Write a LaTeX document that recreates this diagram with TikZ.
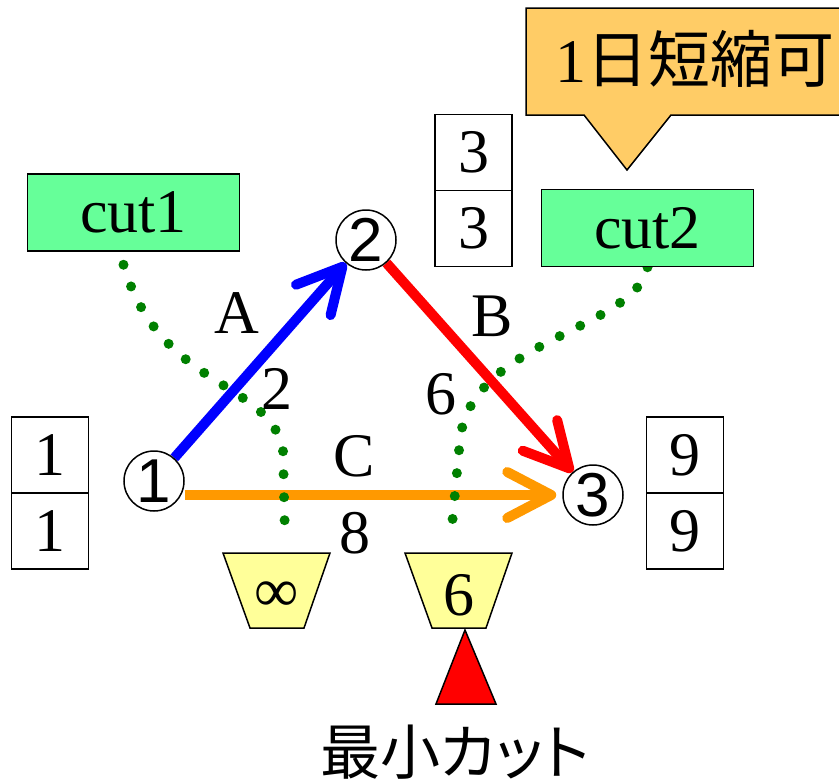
\documentclass[tikz,border=0pt]{standalone}
\usepackage{fontspec}
\setmainfont{Liberation Serif}
\newfontfamily\jpfont{Noto Sans CJK JP}
\newfontfamily\jppfont[RawFeature=+palt]{Noto Sans CJK JP}
\newfontfamily\circfont{Liberation Sans}
\usetikzlibrary{arrows.meta,positioning,backgrounds}
\newcommand\figfont{\fontsize{62}{66}\selectfont}
\definecolor{cutgreen}{RGB}{102,255,153}
\definecolor{bucketyellow}{RGB}{255,255,153}
\definecolor{calloutorange}{RGB}{255,204,102}
\definecolor{edgeorange}{RGB}{255,153,0}
\definecolor{dotgreen}{RGB}{0,128,0}
\tikzset{
valbox/.style={
		draw,
		line width=1.5pt,
		minimum width=77pt,
		minimum height=76pt,
		inner sep=0pt,
		outer sep=0pt,
		font=\figfont
	},
cutbox/.style={
		draw,
		fill=cutgreen,
		line width=1.5pt,
		minimum width=212pt,
		minimum height=77pt,
		font=\figfont
	},
numnode/.style={
		draw,
		circle,
		line width=1.5pt,
		minimum size=60pt,
		inner sep=0pt,
		font=\circfont\fontsize{62}{64}\selectfont
	},
bucket/.style={
		draw,
		fill=bucketyellow,
		line width=1.5pt
	},
flow/.style={
		line width=10pt,
		-{Straight Barb[length=44pt,width=46pt,round]}
	},
cutline/.style={
		dotgreen,
		line width=10pt,
		line cap=round,
		dash pattern=on 0pt off 23pt
	}
}
\begin{document}
\begin{tikzpicture}[x=1pt,y=-1pt]
			\useasboundingbox (0,0) rectangle (839,782);
			\clip (0,0) rectangle (839,782);
			% callout
			\draw[fill=calloutorange,line width=1.5pt] (526,8) -- (900,8) -- (900,115) -- (671,115) -- (627,170) -- (584,115) -- (526,115) -- cycle;
			\node[anchor=base west,inner sep=0pt,font=\figfont] (short) at (555,82) {1{\jpfont 日短縮可}};
			% nodes
			\node[numnode] (n1) at (154,481) {1};
			\node[numnode] (n2) at (366,240) {2};
			\node[numnode] (n3) at (593,495) {3};
			\node[valbox] (s1) at (50,455) {1};
			\node[valbox,below=0pt of s1] (t1) {1};
			\node[valbox] (s2) at (473.5,152.5) {3};
			\node[valbox,below=0pt of s2] (t2) {3};
			\node[valbox] (s3) at (685,455) {9};
			\node[valbox,below=0pt of s3] (t3) {9};
			\node[cutbox] (cut1) at (133.5,212.5) {cut1};
			\node[cutbox] (cut2) at (647.5,228) {cut2};
			% buckets
			\draw[bucket] (223,553) -- (330,553) -- (304,628) -- (250,628) -- cycle;
			\draw[bucket] (405,553) -- (512,553) -- (486,628) -- (432,628) -- cycle;
			\node[font=\figfont] (trap1) at (277,597) {∞};
			\node[font=\figfont] (trap2) at (459,595) {6};
			\coordinate (drop1) at (285,537);
			\coordinate (drop2) at (451,536);
			% labels
			\node[font=\figfont] (labA) at (237,313) {A};
			\node[font=\figfont] (labB) at (492,316) {B};
			\node[font=\figfont] (labC) at (354,456) {C};
			\node[font=\figfont] (capA) at (277,389) {2};
			\node[font=\figfont] (capB) at (441,394) {6};
			\node[font=\figfont] (capC) at (355,533) {8};
			\begin{scope}[on background layer]
			\draw[flow,blue] (n1) -- (n2);
			\draw[flow,red] (n2) -- (n3);
			\draw[flow,edgeorange] (n1.east |- n3) -- ([xshift=-6pt]n3.west);
			\draw[cutline] ([xshift=-10pt,yshift=-13pt]cut1.south) .. controls (160,390) and (270,380) .. (283,450) -- (drop1);
			\draw[cutline] (cut2.south) .. controls (635,330) and (470,340) .. (460,440) -- (drop2);
			\end{scope}
			% minimum cut
			\draw[fill=red,line width=1.5pt] (465,630) -- (496,704) -- (436,704) -- cycle;
			\node[anchor=base west,inner sep=0pt,font=\jppfont\fontsize{60}{62}\selectfont] (mincut) at (320,774) {最小カット};
			\end{tikzpicture}
\end{document}
